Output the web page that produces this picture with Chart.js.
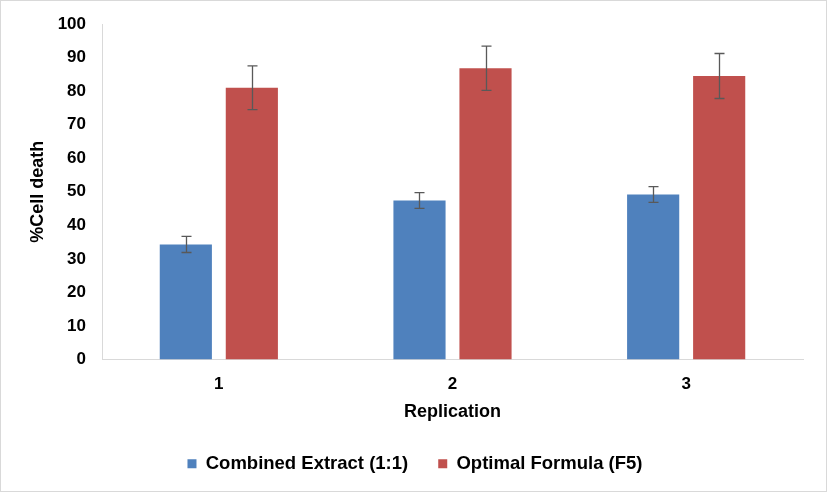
<!DOCTYPE html>
<html>
<head>
<meta charset="utf-8">
<script src="https://cdn.jsdelivr.net/npm/chart.js@4"></script>
<style>
  html, body { margin: 0; padding: 0; background: #fff; }
  #wrap { width: 827px; height: 492px; box-sizing: border-box; border: 1px solid #d9d9d9; position: relative; }
  canvas { display: block; }
</style>
</head>
<body>
<div id="wrap"><canvas id="cellGraph" width="825" height="490"></canvas></div>
<script>
// values
var replications = ["1", "2", "3"];
var combinedExtract = [34.3, 47.4, 49.2];
var combinedErr = [2.4, 2.35, 2.35];
var optimalFormula = [81.0, 86.8, 84.5];
var optimalErr = [6.5, 6.6, 6.7];

// draws the error bars from each dataset's "err" array
var errorBars = {
    id: 'errorBars',
    afterDatasetsDraw: function(chart) {
        var ctx = chart.ctx;
        var yScale = chart.scales.y;
        ctx.save();
        ctx.strokeStyle = "#595959";
        ctx.lineWidth = 1.3;
        chart.data.datasets.forEach(function(ds, i) {
            var meta = chart.getDatasetMeta(i);
            meta.data.forEach(function(bar, j) {
                var x = Math.round(bar.x) + 0.5;
                var top = yScale.getPixelForValue(ds.data[j] + ds.err[j]);
                var bot = yScale.getPixelForValue(ds.data[j] - ds.err[j]);
                ctx.beginPath();
                ctx.moveTo(x, top); ctx.lineTo(x, bot);
                ctx.moveTo(x - 5, top); ctx.lineTo(x + 5, top);
                ctx.moveTo(x - 5, bot); ctx.lineTo(x + 5, bot);
                ctx.stroke();
            });
        });
        ctx.restore();
    }
};

var fam = "'Liberation Sans', Arial, sans-serif";
var tickFont = { family: fam, size: 17, weight: 'bold' };
var titleFont = { family: fam, size: 18, weight: 'bold' };
var legendFont = { family: fam, size: 18.5, weight: 'bold' };

var cellConfig = {
    type: 'bar',
    data: {
        labels: replications,
        datasets: [{
            label: "Combined Extract (1:1)",
            data: combinedExtract,
            err: combinedErr,
            backgroundColor: "#4f81bd",
            categoryPercentage: 0.565,
            barPercentage: 0.79
        }, {
            label: "Optimal Formula (F5)",
            data: optimalFormula,
            err: optimalErr,
            backgroundColor: "#c0504d",
            categoryPercentage: 0.565,
            barPercentage: 0.79
        }]
    },
    options: {
        responsive: false,
        animation: false,
        layout: { padding: { top: 23, right: 23, left: 26, bottom: 8 } },
        scales: {
            x: {
                grid: { display: false, drawTicks: false },
                border: { color: "#d9d9d9", width: 1 },
                ticks: { color: "#000", font: tickFont, padding: 15 },
                title: { display: true, text: "Replication", color: "#000", font: titleFont, padding: { top: 2, bottom: 2 } },
                afterFit: function(scale) { scale.height = 65; }
            },
            y: {
                min: 0, max: 100,
                grid: { display: false, drawTicks: false },
                border: { color: "#d9d9d9", width: 1 },
                ticks: { stepSize: 10, color: "#000", font: tickFont, padding: 16 },
                title: { display: true, text: "%Cell death", color: "#000", font: titleFont, padding: { top: 0, bottom: 0 } },
                afterFit: function(scale) { scale.width = 75; scale.paddingTop = 0; }
            }
        },
        plugins: {
            legend: {
                position: 'bottom',
                labels: { color: "#000", font: legendFont, boxWidth: 9, boxHeight: 9, padding: 30 }
            },
            tooltip: { enabled: false }
        }
    },
    plugins: [errorBars]
};

var cellCtx = document.getElementById("cellGraph");
var cellChart = new Chart(cellCtx, cellConfig);
</script>
</body>
</html>
